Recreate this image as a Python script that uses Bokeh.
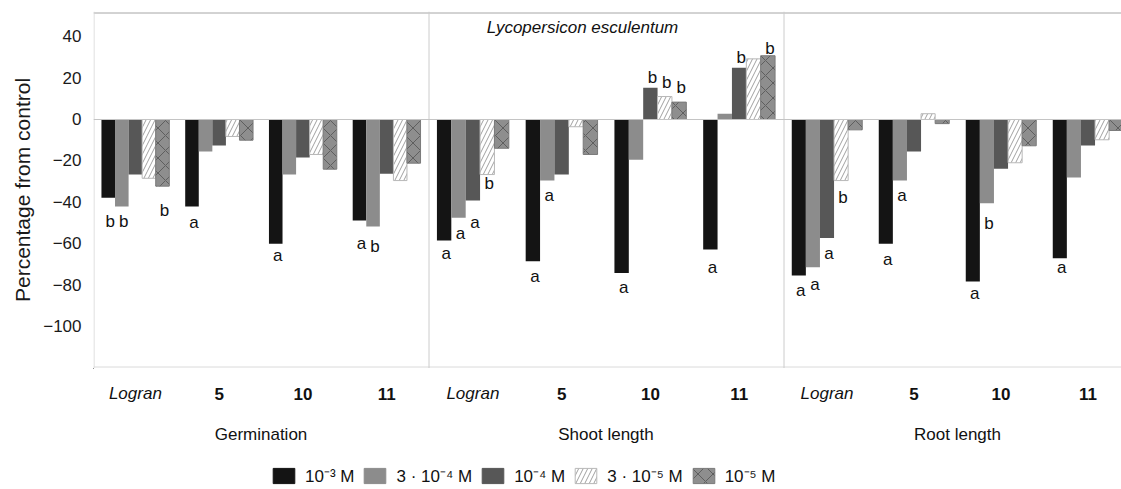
from bokeh.plotting import figure
from bokeh.layouts import column
from bokeh.models import Range1d, FixedTicker, Span, ColumnDataSource, Legend, LegendItem
from bokeh.core.properties import value
from bokeh.embed import file_html
from bokeh.resources import INLINE

# ---------------- data ----------------
measures = ["Germination", "Shoot length", "Root length"]
compounds = ["Logran", "5", "10", "11"]
concentrations = ["10⁻³ M", "3 · 10⁻⁴ M", "10⁻⁴ M", "3 · 10⁻⁵ M", "10⁻⁵ M"]

# values ordered: Germination (Logran, 5, 10, 11), Shoot length (...), Root length (...)
conc_1e3 = [-37.8, -42.0, -60.0, -48.8, -58.5, -68.5, -74.1, -62.8, -75.4, -60.0, -78.3, -67.0]
conc_3e4 = [-42.0, -15.5, -26.6, -51.7, -47.5, -29.5, -19.5, 2.8, -71.4, -29.5, -40.4, -28.0]
conc_1e4 = [-26.6, -12.6, -18.4, -26.2, -39.1, -26.6, 15.3, 25.0, -57.2, -15.5, -23.8, -12.6]
conc_3e5 = [-28.4, -8.2, -16.9, -29.5, -26.6, -3.5, 11.1, 29.3, -29.5, 2.8, -20.9, -9.8]
conc_1e5 = [-32.2, -10.0, -24.0, -21.1, -13.9, -16.9, 8.4, 30.8, -5.0, -2.0, -12.7, -5.3]
series_values = [conc_1e3, conc_3e4, conc_1e4, conc_3e5, conc_1e5]

y_ticks = [40, 20, 0, -20, -40, -60, -80, -100]
title_text = "Lycopersicon esculentum"
y_label = "Percentage from control"

# significance letters: measure index, compound index, concentration index, letter
sig_panel = [0, 0, 0, 0, 0, 0, 0, 1, 1, 1, 1, 1, 1, 1, 1, 1, 1, 1, 1, 1, 2, 2, 2, 2, 2, 2, 2, 2, 2]
sig_comp = [0, 0, 0, 1, 2, 3, 3, 0, 0, 0, 0, 1, 1, 2, 2, 2, 2, 3, 3, 3, 0, 0, 0, 0, 1, 1, 2, 2, 3]
sig_conc = [0, 1, 4, 0, 0, 0, 1, 0, 1, 2, 3, 0, 1, 0, 2, 3, 4, 0, 2, 4, 0, 1, 2, 3, 0, 1, 0, 1, 0]
sig_letter = ["b", "b", "b", "a", "a", "a", "b",
              "a", "a", "a", "b", "a", "a", "a", "b", "b", "b", "a", "b", "b",
              "a", "a", "a", "b", "a", "a", "a", "b", "a"]

# ---------------- layout / style ----------------
FONT = "Liberation Sans"
W = 1121
H = 489
LEFT = 93
X0 = 93                      # frame left (px)
X1 = W                       # frame right (px)
PX = 2.07                    # px per unit
ZERO_Y = 119                 # y of value 0 (px from top)
TOP_H = 368
TOP_MB = 11
panel_starts = [93, 428, 783]
panel_widths = [335, 355, 348]
sig_gap = [23.7, 15, 24.3, 16, 11.7, 23, 20,
           12.7, 15.4, 21.7, 9.3, 15, 15, 15, 10.6, 14.3, 14.4, 17.7, 10.6, 7.6,
           15, 17.3, 15.2, 17.3, 15.7, 15, 12.3, 20.6, 9.6]

fills = ["#141414", "#8c8c8c", "#575757", "#ffffff", "#8e8e8e"]
hatches = [None, None, None, "right_diagonal_line", "diagonal_cross"]
hatch_colors = [None, None, None, "#a0a0a0", "#5e5e5e"]
hatch_scales = [12, 12, 12, 9, 15]
lines = [None, None, None, "#b8b8b8", "#7a7a7a"]


def val(py):
    return (ZERO_Y - py) / PX


def slot(pn):
    return panel_widths[pn] / 4.0


def group_center(pn, c):
    return panel_starts[pn] + (c + 0.5) * slot(pn)


def bar_center(pn, c, s):
    bw = 0.162 * slot(pn)
    return group_center(pn, c) + (s - 2) * bw, bw


def bar_style(s):
    kw = dict(fill_color=fills[s], line_color=lines[s], line_width=1)
    if hatches[s]:
        kw.update(hatch_pattern=hatches[s], hatch_color=hatch_colors[s],
                  hatch_scale=hatch_scales[s], hatch_weight=1)
    return kw


def tick_text(t):
    # right-align the labels by padding with figure spaces (same width as digits)
    s = str(t).replace("-", "\u2212")
    pad = 4 - len(s)
    return "\u2007" * pad + s


top = figure(width=W, height=TOP_H, x_range=Range1d(X0, X1),
             y_range=Range1d(val(TOP_H), val(TOP_MB)),
             min_border_left=LEFT, min_border_right=0, min_border_top=TOP_MB, min_border_bottom=0,
             toolbar_location=None, output_backend="svg", x_axis_type=None,
             outline_line_color=None, background_fill_color="white")
top.grid.visible = False

ax = top.yaxis[0]
ax.ticker = FixedTicker(ticks=y_ticks)
ax.major_label_overrides = {t: tick_text(t) for t in y_ticks}
ax.axis_line_color = None
ax.major_tick_line_color = None
ax.minor_tick_line_color = None
ax.major_tick_out = 0
ax.major_tick_in = 0
ax.minor_tick_out = 0
ax.major_label_standoff = 12
ax.major_label_text_align = "right"
ax.major_label_text_font = FONT
ax.major_label_text_font_size = "17px"
ax.major_label_text_color = "#1a1a1a"
ax.axis_label = y_label
ax.axis_label_text_font = FONT
ax.axis_label_text_font_size = "21px"
ax.axis_label_text_font_style = "normal"
ax.axis_label_text_color = "#1a1a1a"
ax.axis_label_standoff = 6

# frame lines
top.add_layout(Span(location=val(12.5), dimension="width", line_color="#a6a6a6", line_width=1))
top.add_layout(Span(location=val(366.5), dimension="width", line_color="#dadada", line_width=1))
top.add_layout(Span(location=X0 + 0.5, dimension="height", line_color="#d6d6d6", line_width=1))
for ps in panel_starts[1:]:
    top.add_layout(Span(location=ps + 0.5, dimension="height", line_color="#cccccc", line_width=1))
top.add_layout(Span(location=0, dimension="width", line_color="#c4c4c4", line_width=1))

# bars
for s, vals in enumerate(series_values):
    xs, ws, tops = [], [], []
    for i, v in enumerate(vals):
        pn, c = divmod(i, 4)
        x, bw = bar_center(pn, c, s)
        xs.append(x)
        ws.append(bw)
        tops.append(v)
    src = ColumnDataSource(dict(x=xs, w=ws, top=tops))
    top.vbar(x="x", width="w", top="top", bottom=0, source=src, **bar_style(s))

# significance letters
lx, ly = [], []
for k in range(len(sig_letter)):
    pn, c, s = sig_panel[k], sig_comp[k], sig_conc[k]
    x, _ = bar_center(pn, c, s)
    v = series_values[s][pn * 4 + c]
    g = sig_gap[k] / PX
    lx.append(x + 2)
    ly.append(v - g if v < 0 else v + g)
top.text(x="x", y="y", text="t", source=ColumnDataSource(dict(x=lx, y=ly, t=sig_letter)),
         text_font=value(FONT), text_font_size="17px", text_align="center",
         text_baseline="middle", text_color="#111111")

# title
top.text(x=[582], y=[val(27)], text=[title_text], text_font=value(FONT),
         text_font_style="italic", text_font_size="17px", text_align="center",
         text_baseline="middle", text_color="#111111")

# ---------------- bottom: category labels + legend ----------------
BOT_H = H - TOP_H
bottom = figure(width=W, height=BOT_H, x_range=top.x_range,
                y_range=Range1d(H, TOP_H),
                min_border_left=LEFT, min_border_right=0, min_border_top=0, min_border_bottom=0,
                toolbar_location=None, output_backend="svg", x_axis_type=None, y_axis_type=None,
                outline_line_color=None)
bottom.grid.visible = False

cx_it, cy_it, ct_it = [], [], []
cx_b, cy_b, ct_b = [], [], []
for pn in range(len(measures)):
    for c, name in enumerate(compounds):
        if c == 0:
            cx_it.append(group_center(pn, c)); cy_it.append(393); ct_it.append(name)
        else:
            cx_b.append(group_center(pn, c)); cy_b.append(393); ct_b.append(name)
bottom.text(x=cx_it, y=cy_it, text=ct_it, text_font=value(FONT), text_font_style="italic",
            text_font_size="17px", text_align="center", text_baseline="middle", text_color="#111111")
bottom.text(x=cx_b, y=cy_b, text=ct_b, text_font=value(FONT), text_font_style="bold",
            text_font_size="17px", text_align="center", text_baseline="middle", text_color="#111111")
bottom.text(x=[panel_starts[i] + panel_widths[i] / 2 for i in range(3)], y=[434] * 3, text=measures,
            text_font=value(FONT), text_font_size="17px", text_align="center",
            text_baseline="middle", text_color="#111111")

# legend proxies (one point each, placed outside the visible x range)
items = []
for s, name in enumerate(concentrations):
    kw = bar_style(s)
    if kw["line_color"] is None:
        kw["line_color"] = fills[s]
    r = bottom.vbar(x="x", top="top", width=1, bottom=0,
                    source=ColumnDataSource(dict(x=[X0 - 500], top=[1])), **kw)
    items.append(LegendItem(label=name, renderers=[r]))
legend = Legend(items=items, orientation="horizontal", location=(270 - X0, 2),
                glyph_width=27, glyph_height=19, label_standoff=8, spacing=7,
                padding=0, margin=0, border_line_color=None, background_fill_alpha=0,
                label_text_font=FONT, label_text_font_size="17px", label_height=19,
                label_text_color="#111111")
bottom.add_layout(legend)

layout = column(top, bottom, spacing=0)
open("out.html", "w").write(file_html(layout, INLINE))
